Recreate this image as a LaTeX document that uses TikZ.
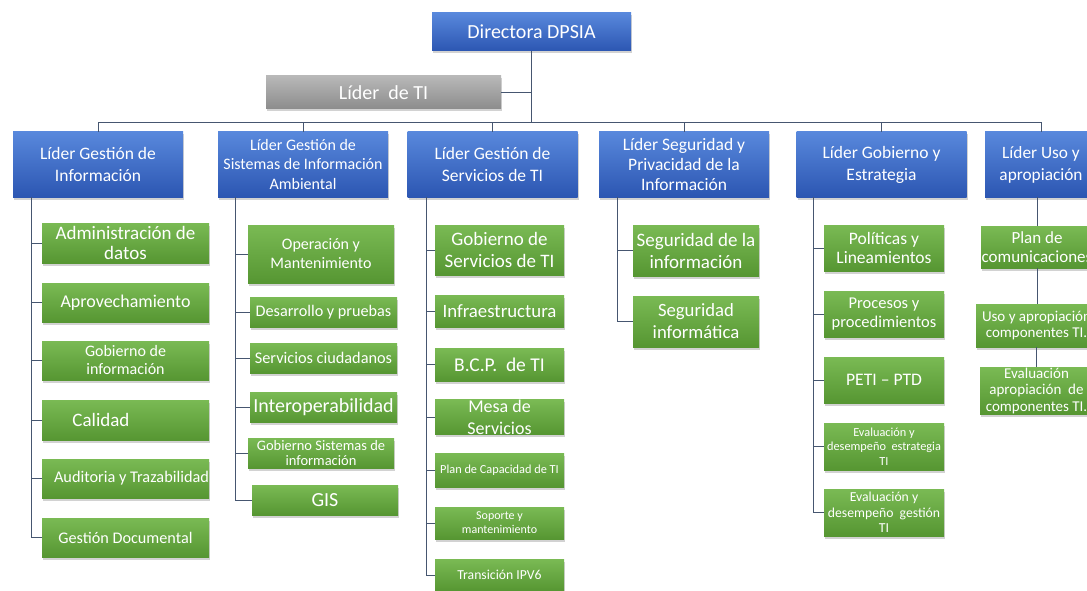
\documentclass[tikz,border=0pt]{standalone}
\usepackage{fontspec}
\setmainfont{Carlito}
\usetikzlibrary{shadows}
\definecolor{bluetop}{RGB}{88,136,220}
\definecolor{bluebot}{RGB}{44,86,178}
\definecolor{greentop}{RGB}{122,186,84}
\definecolor{greenbot}{RGB}{86,150,50}
\definecolor{graytop}{RGB}{184,184,184}
\definecolor{graybot}{RGB}{140,140,140}
\definecolor{conncol}{RGB}{70,86,112}
\newcommand{\fsz}[2]{\fontsize{#1}{#2}\selectfont}
\tikzset{
  box/.style={rectangle, inner sep=0pt, outer sep=0pt, text=white, align=center,
    drop shadow={shadow xshift=1pt, shadow yshift=-2.5pt, opacity=0.35}},
  bbox/.style={box, top color=bluetop, bottom color=bluebot},
  gbox/.style={box, top color=greentop, bottom color=greenbot},
  graybox/.style={box, top color=graytop, bottom color=graybot},
  conn/.style={draw=conncol, line width=1pt},
  sz/.style 2 args={minimum width=#1pt, minimum height=#2pt},
  lvl/.style={bbox, sz={170}{65}},
}
\begin{document}
\begin{tikzpicture}[x=1pt,y=-1pt]
\clip (0,0) rectangle (1087,591);
\fill[white] (0,0) rectangle (1087,591);

% top
\node[bbox, sz={199}{38}, font=\fsz{20}{24}] (dir) at (531.5,32) {Directora DPSIA};
\node[graybox, sz={235}{33}, font=\fsz{20}{24}] (ti) at (383.5,92.5) {Líder\ \ de TI};

% level 2
\node[lvl, font=\fsz{17.5}{22}] (l1) at (98,164.5) {Líder Gestión de\\Información};
\node[lvl, font=\fsz{16}{19.5}] (l2) at (303,164.5) {Líder Gestión de\\Sistemas de Información\\Ambiental};
\node[lvl, font=\fsz{17.5}{22}] (l3) at (492.5,164.5) {Líder Gestión de\\Servicios de TI};
\node[lvl, font=\fsz{17.5}{20}] (l4) at (684,164.5) {Líder Seguridad y\\Privacidad de la\\Información};
\node[lvl, font=\fsz{17.5}{22}] (l5) at (881.5,164.5) {Líder Gobierno y\\Estrategia};
\node[lvl, sz={112}{65}, font=\fsz{17.3}{22}] (l6) at (1041,164.5) {Líder Uso y\\apropiación};

% column 1
\node[gbox, sz={167}{40}, font=\fsz{19}{20}] (a1) at (125.5,243) {Administración de\\datos};
\node[gbox, sz={167}{39}, font=\fsz{18}{20}] (a2) at (125.5,302.5) {Aprovechamiento};
\node[gbox, sz={167}{39}, font=\fsz{16}{18}] (a3) at (125.5,360.5) {Gobierno de\\información};
\node[gbox, sz={167}{40}, font=\fsz{19}{20}] (a4) at (125.5,420) {Calidad\hspace*{49pt}};
\node[gbox, sz={167}{39}, font=\fsz{16.3}{18}] (a5) at (125.5,478.5) {\hspace*{12pt}Auditoria y Trazabilidad};
\node[gbox, sz={167}{39}, font=\fsz{16.2}{18}] (a6) at (125.5,537.5) {Gestión Documental};

% column 2
\node[gbox, sz={146}{58}, font=\fsz{16}{19}] (b1) at (321,254) {Operación y\\Mantenimiento};
\node[gbox, sz={147}{30}, font=\fsz{16.2}{18}] (b2) at (323.5,312) {Desarrollo y pruebas};
\node[gbox, sz={147}{30}, font=\fsz{16.3}{18}] (b3) at (323.5,358) {Servicios ciudadanos};
\node[gbox, sz={147}{30}, font=\fsz{20}{22}] (b4) at (323.5,407) {Interoperabilidad};
\node[gbox, sz={146}{30}, font=\fsz{14.5}{15}] (b5) at (321,453) {Gobierno Sistemas de\\información};
\node[gbox, sz={146}{30}, font=\fsz{20}{22}] (b6) at (325,500) {GIS};

% column 3
\node[gbox, sz={129}{50}, font=\fsz{19}{22}] (c1) at (499.5,250) {Gobierno de\\Servicios de TI};
\node[gbox, sz={129}{32}, font=\fsz{18.8}{20}] (c2) at (499.5,311) {Infraestructura};
\node[gbox, sz={129}{33}, font=\fsz{19.5}{20}] (c3) at (499.5,364.5) {B.C.P.\ \ de TI};
\node[gbox, sz={129}{32}, font=\fsz{18}{22}] (c4) at (499.5,417) {Mesa de\\Servicios};
\node[gbox, sz={129}{34}, font=\fsz{12.3}{14}] (c5) at (499.5,470) {Plan de Capacidad de TI};
\node[gbox, sz={129}{32}, font=\fsz{12}{14}] (c6) at (499.5,523) {Soporte y\\mantenimiento};
\node[gbox, sz={129}{32}, font=\fsz{13.7}{15}] (c7) at (499.5,575) {Transición IPV6};

% column 4
\node[gbox, sz={126}{51}, font=\fsz{19}{22}] (d1) at (696,250.5) {Seguridad de la\\información};
\node[gbox, sz={126}{51}, font=\fsz{18.7}{22}] (d2) at (696,321.5) {Seguridad\\informática};

% column 5
\node[gbox, sz={120}{46}, font=\fsz{17.5}{19}] (e1) at (884,248) {Políticas y\\Lineamientos};
\node[gbox, sz={120}{46}, font=\fsz{16.5}{19}] (e2) at (884,314) {Procesos y\\procedimientos};
\node[gbox, sz={120}{46}, font=\fsz{17.6}{20}] (e3) at (884,380) {PETI – PTD};
\node[gbox, sz={120}{47}, font=\fsz{12.3}{14.3}] (e4) at (884,446.5) {Evaluación y\\desempeño\ \ estrategia\\TI};
\node[gbox, sz={120}{47}, font=\fsz{13.7}{15.7}] (e5) at (884,512.5) {Evaluación y\\desempeño\ \ gestión\\TI};

% column 6
\node[gbox, sz={112}{42}, font=\fsz{17}{19}] (f1) at (1037,247) {Plan de\\comunicaciones};
\node[gbox, sz={121}{43}, font=\fsz{15}{16}] (f2) at (1036.5,325.5) {Uso y apropiación\\componentes TI.};
\node[gbox, sz={113}{47}, font=\fsz{15}{16.5}] (f3) at (1036.5,390.5) {Evaluación\\apropiación\ \ de\\componentes TI.};

% connectors
\coordinate (bus) at (0,123);
\draw[conn] (dir.south) -- (dir.south |- bus);
\draw[conn] (ti.east) -- (ti.east -| dir.south);
\draw[conn] (l1.north) -- (l1.north |- bus) -| (l6.north);
\foreach \n in {l2,l3,l4,l5} \draw[conn] (\n.north) -- (\n.north |- bus);

\coordinate (v1) at (31,0);
\draw[conn] (l1.south -| v1) |- (a6.west);
\foreach \n in {a1,a2,a3,a4,a5} \draw[conn] (v1 |- \n.west) -- (\n.west);

\coordinate (v2) at (235,0);
\draw[conn] (l2.south -| v2) |- (b6.west);
\foreach \n in {b1,b2,b3,b4,b5} \draw[conn] (v2 |- \n.west) -- (\n.west);

\coordinate (v3) at (426,0);
\draw[conn] (l3.south -| v3) |- (c7.west);
\foreach \n in {c1,c2,c3,c4,c5,c6} \draw[conn] (v3 |- \n.west) -- (\n.west);

\coordinate (v4) at (617,0);
\draw[conn] (l4.south -| v4) |- (d2.west);
\draw[conn] (v4 |- d1.west) -- (d1.west);

\coordinate (v5) at (813,0);
\draw[conn] (l5.south -| v5) |- (e5.west);
\foreach \n in {e1,e2,e3,e4} \draw[conn] (v5 |- \n.west) -- (\n.west);

\draw[conn] (l6.south -| f1.north) -- (f1.north);
\draw[conn] (f1.south) -- (f1.south |- f2.north);
\draw[conn] (f2.south) -- (f2.south |- f3.north);
\end{tikzpicture}
\end{document}
